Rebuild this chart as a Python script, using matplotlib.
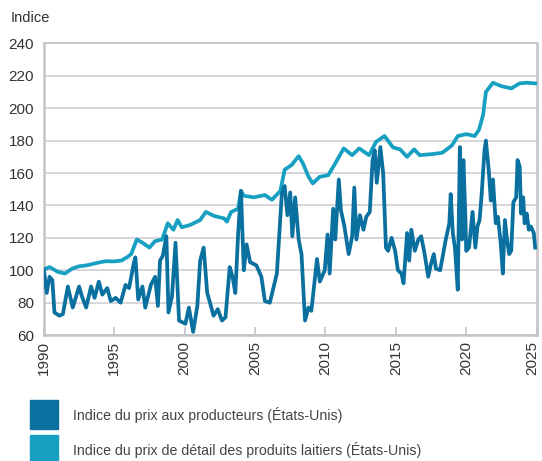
import matplotlib
matplotlib.use("Agg")
import matplotlib.pyplot as plt
import matplotlib.transforms as mtransforms
from matplotlib.patches import Rectangle

plt.rcParams['font.family'] = ['Liberation Sans', 'DejaVu Sans']

# producer price index (dark line)
prod_year = [1990.0, 1990.2, 1990.4, 1990.6, 1990.75, 1991.1, 1991.35, 1991.7, 1992.05, 1992.5,
             1992.7, 1993.0, 1993.35, 1993.6, 1993.9, 1994.15, 1994.5, 1994.75, 1995.1, 1995.45,
             1995.8, 1996.05, 1996.4, 1996.5, 1996.7, 1997.0, 1997.2, 1997.6, 1997.9, 1998.1,
             1998.25, 1998.45, 1998.7, 1998.85, 1999.1, 1999.35, 1999.6, 2000.05, 2000.3, 2000.6,
             2000.9, 2001.1, 2001.35, 2001.6, 2001.8, 2002.05, 2002.35, 2002.65, 2002.9, 2003.2,
             2003.4, 2003.6, 2003.8, 2004.0, 2004.2, 2004.4, 2004.65, 2005.1, 2005.45, 2005.7,
             2006.05, 2006.3, 2006.55, 2006.9, 2007.1, 2007.3, 2007.5, 2007.65, 2007.85, 2008.1,
             2008.3, 2008.55, 2008.8, 2009.0, 2009.4, 2009.6, 2009.95, 2010.15, 2010.3, 2010.55,
             2010.7, 2010.95, 2011.1, 2011.35, 2011.65, 2011.9, 2012.05, 2012.2, 2012.45, 2012.7,
             2012.9, 2013.15, 2013.35, 2013.5, 2013.65, 2013.9, 2014.1, 2014.3, 2014.45, 2014.7,
             2014.95, 2015.15, 2015.4, 2015.55, 2015.8, 2015.95, 2016.1, 2016.35, 2016.6, 2016.8,
             2017.05, 2017.3, 2017.5, 2017.7, 2017.85, 2018.15, 2018.55, 2018.8, 2018.9, 2019.05,
             2019.2, 2019.4, 2019.55, 2019.7, 2019.8, 2019.95, 2020.0, 2020.2, 2020.45, 2020.65,
             2020.8, 2020.95, 2021.1, 2021.3, 2021.4, 2021.6, 2021.75, 2021.9, 2022.1, 2022.25,
             2022.45, 2022.6, 2022.75, 2022.9, 2023.05, 2023.2, 2023.35, 2023.55, 2023.65, 2023.8,
             2023.9, 2024.05, 2024.15, 2024.3, 2024.45, 2024.6, 2024.8, 2024.9]
prod_val = [100, 86, 96, 94, 74, 72, 73, 90, 77, 90,
            84, 77, 90, 83, 93, 85, 89, 81, 83, 80,
            91, 89, 105, 108, 82, 90, 77, 91, 96, 78,
            106, 109, 121, 74, 84, 117, 69, 67, 77, 62,
            78, 106, 114, 86, 80, 72, 76, 69, 71, 102,
            96, 86, 123, 149, 100, 116, 105, 103, 96, 81,
            80, 89, 98, 147, 152, 134, 148, 121, 145, 119,
            110, 69, 77, 75, 107, 93, 100, 122, 98, 138,
            119, 156, 137, 127, 110, 121, 151, 119, 134, 125,
            133, 136, 168, 174, 154, 176, 160, 114, 112, 120,
            112, 100, 98, 92, 123, 106, 125, 112, 119, 121,
            110, 96, 104, 110, 101, 100, 119, 129, 147, 123,
            114, 88, 176, 119, 168, 131, 112, 114, 136, 114,
            127, 131, 147, 174, 180, 162, 143, 156, 129, 133,
            117, 98, 131, 119, 110, 112, 142, 145, 168, 164,
            135, 145, 129, 135, 125, 127, 123, 114]

# retail dairy price index (light line)
retail_year = [1990.0, 1990.4, 1991.0, 1991.5, 1992.0, 1992.5, 1993.0, 1993.5, 1994.0, 1994.4,
               1995.0, 1995.5, 1995.9, 1996.2, 1996.6, 1997.0, 1997.5, 1997.9, 1998.4, 1998.8,
               1999.2, 1999.5, 1999.8, 2000.4, 2001.1, 2001.5, 2002.1, 2002.8, 2003.0, 2003.3,
               2003.8, 2004.0, 2004.2, 2004.9, 2005.7, 2006.2, 2006.8, 2007.1, 2007.6, 2008.1,
               2008.4, 2008.8, 2009.1, 2009.6, 2010.2, 2010.7, 2011.3, 2011.9, 2012.4, 2013.1,
               2013.6, 2014.2, 2014.8, 2015.3, 2015.8, 2016.3, 2016.7, 2017.6, 2018.3, 2018.8,
               2019.0, 2019.4, 2020.0, 2020.6, 2020.9, 2021.2, 2021.4, 2021.9, 2022.5, 2023.2,
               2023.8, 2024.3, 2024.9]
retail_val = [100.5, 102, 99, 98, 101, 102.5, 103, 104, 105, 105.6,
              105.5, 106, 108, 110, 119, 117, 114, 118, 119, 129,
              125, 131, 126.5, 128, 131, 136, 133.5, 132, 130, 136,
              138, 149, 146, 145, 146.4, 143.5, 149, 162, 165, 170.4,
              166, 157.7, 153.6, 157.7, 158.7, 166, 175.2, 171, 175.2, 171,
              179.3, 182.8, 175.8, 174.6, 170, 174.6, 171, 171.7, 172.5, 175.8,
              177.2, 182.8, 184, 182.8, 186.5, 195.8, 210, 215.7, 213.6, 212.2,
              215.3, 215.7, 215.3]

x_ticks = [1990, 1995, 2000, 2005, 2010, 2015, 2020, 2025]
y_ticks = [60, 80, 100, 120, 140, 160, 180, 200, 220, 240]
labels = ['Indice du prix aux producteurs (États-Unis)',
          'Indice du prix de détail des produits laitiers (États-Unis)']

dark = '#0a70a0'
light = '#17a0c2'
grey = '#c4c4c8'
txt = '#333333'

fig = plt.figure(figsize=(5.42, 4.61), dpi=100)
ax = fig.add_axes([0.081, 0.273, 0.909, 0.633])

ax.plot(retail_year, retail_val, color=light, lw=2.7, solid_joinstyle='round', zorder=3)
ax.plot(prod_year, prod_val, color=dark, lw=2.7, solid_joinstyle='round', zorder=4)

ax.set_xlim(1990, 2025)
ax.set_ylim(60, 240)
ax.set_xticks(x_ticks)
ax.set_yticks(y_ticks)
ax.set_xticklabels([str(x) for x in x_ticks], rotation=90, fontsize=11, color=txt)
ax.set_yticklabels([str(y) for y in y_ticks], fontsize=11, color=txt)
ax.tick_params(axis='x', direction='in', length=6, width=1.2, color=grey, pad=4)
ax.tick_params(axis='y', length=0, pad=7)
# nudge the last year label a few pixels left so it stays inside the picture
last = ax.get_xticklabels()[-1]
last.set_transform(last.get_transform() +
                   mtransforms.ScaledTranslation(-3 / 72, 0, fig.dpi_scale_trans))

ax.grid(axis='y', color='#d0d0d4', lw=1.2)
ax.set_axisbelow(True)
for s in ax.spines.values():
    s.set_color(grey)
    s.set_linewidth(1.8)
ax.spines['top'].set_linewidth(1.2)

fig.text(0.02, 0.96, 'Indice', fontsize=10.5, color=txt, va='center')

# legend drawn by hand below the chart
for i, (lab, col) in enumerate(zip(labels, [dark, light])):
    yc = 1 - (414.5 + i * 35) / 461
    fig.patches.append(Rectangle((30 / 542, yc - 14.5 / 461), 28 / 542, 29 / 461,
                                 transform=fig.transFigure, color=col))
    fig.text(73 / 542, yc, lab, fontsize=10.2, color='#444444', va='center')

plt.savefig('out.png', dpi=100)
